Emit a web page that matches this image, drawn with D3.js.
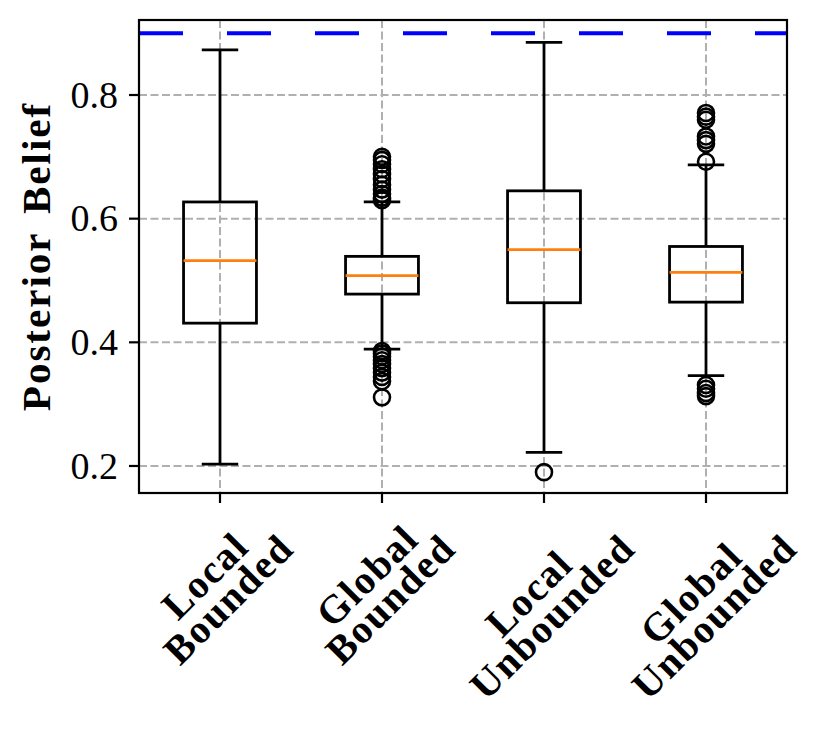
<!DOCTYPE html>
<html>
<head>
<meta charset="utf-8">
<script src="https://cdn.jsdelivr.net/npm/d3@7"></script>
<style>
  body { margin: 0; background: #fff; }
  text { font-family: "Liberation Serif", "Times New Roman", serif; fill: #000; }
</style>
</head>
<body>
<div id="app"></div>
<script>
// values
const categories = [['Local', 'Bounded'], ['Global', 'Bounded'], ['Local', 'Unbounded'], ['Global', 'Unbounded']]
const whiskerLow = [0.203, 0.389, 0.222, 0.346]
const q1 = [0.431, 0.478, 0.464, 0.465]
const median = [0.532, 0.508, 0.550, 0.513]
const q3 = [0.627, 0.539, 0.645, 0.555]
const whiskerHigh = [0.873, 0.627, 0.885, 0.687]
const fliers = [
  [],
  [0.700, 0.695, 0.688, 0.680, 0.672, 0.664, 0.655, 0.647, 0.640, 0.634, 0.630,
   0.386, 0.382, 0.377, 0.371, 0.365, 0.358, 0.351, 0.344, 0.337, 0.311],
  [0.190],
  [0.771, 0.765, 0.760, 0.733, 0.727, 0.721, 0.692, 0.331, 0.325, 0.318, 0.313]
]
const yTicks = [0.2, 0.4, 0.6, 0.8]
const refLine = 0.9

const size = { width: 831, height: 743, left: 139, right: 787, top: 20, bottom: 493 }

const x = d3.scaleLinear().domain([0.5, 4.5]).range([size.left, size.right])
const y = d3.scaleLinear().domain([0.1563, 0.9213]).range([size.bottom, size.top])
const boxW = x(1.45) - x(1)   // matplotlib default width 0.45
const capW = boxW / 2

const svg = d3.select('#app').append('svg')
  .attr('width', size.width)
  .attr('height', size.height)

// grid
const grid = svg.append('g')
  .attr('stroke', '#b0b0b0')
  .attr('stroke-width', 2)
  .attr('stroke-dasharray', '8,3.5')
grid.selectAll('.gy').data(yTicks).enter().append('line')
  .attr('x1', size.left).attr('x2', size.right)
  .attr('y1', d => y(d)).attr('y2', d => y(d))
grid.selectAll('.gx').data(categories).enter().append('line')
  .attr('x1', (d, i) => x(i + 1)).attr('x2', (d, i) => x(i + 1))
  .attr('y1', size.top).attr('y2', size.bottom)

// reference line
svg.append('line')
  .attr('x1', size.left).attr('x2', size.right)
  .attr('y1', y(refLine)).attr('y2', y(refLine))
  .attr('stroke', '#0000ff')
  .attr('stroke-width', 4)
  .attr('stroke-dasharray', '44,44')

// boxes
const boxes = svg.selectAll('.box').data(categories).enter().append('g')
  .attr('class', 'box')
  .attr('transform', (d, i) => `translate(${x(i + 1)},0)`)

boxes.append('line') // whisker low
  .attr('x1', 0).attr('x2', 0)
  .attr('y1', (d, i) => y(whiskerLow[i])).attr('y2', (d, i) => y(q1[i]))
  .attr('stroke', '#000').attr('stroke-width', 2.8)
boxes.append('line') // whisker high
  .attr('x1', 0).attr('x2', 0)
  .attr('y1', (d, i) => y(q3[i])).attr('y2', (d, i) => y(whiskerHigh[i]))
  .attr('stroke', '#000').attr('stroke-width', 2.8)
boxes.append('line') // low cap
  .attr('x1', -capW / 2).attr('x2', capW / 2)
  .attr('y1', (d, i) => y(whiskerLow[i])).attr('y2', (d, i) => y(whiskerLow[i]))
  .attr('stroke', '#000').attr('stroke-width', 2.8)
boxes.append('line') // high cap
  .attr('x1', -capW / 2).attr('x2', capW / 2)
  .attr('y1', (d, i) => y(whiskerHigh[i])).attr('y2', (d, i) => y(whiskerHigh[i]))
  .attr('stroke', '#000').attr('stroke-width', 2.8)
boxes.append('rect')
  .attr('x', -boxW / 2)
  .attr('width', boxW)
  .attr('y', (d, i) => y(q3[i]))
  .attr('height', (d, i) => y(q1[i]) - y(q3[i]))
  .attr('fill', 'none')
  .attr('stroke', '#000').attr('stroke-width', 2.8)
boxes.append('line') // median
  .attr('x1', -boxW / 2).attr('x2', boxW / 2)
  .attr('y1', (d, i) => y(median[i])).attr('y2', (d, i) => y(median[i]))
  .attr('stroke', '#ff7f0e').attr('stroke-width', 2.8)
boxes.each(function (d, i) {
  d3.select(this).selectAll('circle').data(fliers[i]).enter().append('circle')
    .attr('cx', 0)
    .attr('cy', v => y(v))
    .attr('r', 8)
    .attr('fill', 'none')
    .attr('stroke', '#000')
    .attr('stroke-width', 2.6)
})

// frame
svg.append('rect')
  .attr('x', size.left).attr('y', size.top)
  .attr('width', size.right - size.left).attr('height', size.bottom - size.top)
  .attr('fill', 'none').attr('stroke', '#000').attr('stroke-width', 2.2)

// y axis ticks + labels
const yAxis = svg.append('g')
yAxis.selectAll('line').data(yTicks).enter().append('line')
  .attr('x1', size.left - 10).attr('x2', size.left)
  .attr('y1', d => y(d)).attr('y2', d => y(d))
  .attr('stroke', '#000').attr('stroke-width', 2.2)
yAxis.selectAll('text').data(yTicks).enter().append('text')
  .attr('x', size.left - 21)
  .attr('y', d => y(d))
  .attr('dy', '0.33em')
  .attr('text-anchor', 'end')
  .attr('font-size', 38)
  .text(d => d3.format('.1f')(d))

svg.append('text')
  .attr('transform', `translate(50,${(size.top + size.bottom) / 2}) rotate(-90)`)
  .attr('text-anchor', 'middle')
  .attr('font-size', 41)
  .attr('font-weight', 'bold')
  .attr('letter-spacing', 2)
  .attr('word-spacing', 6)
  .text('Posterior Belief')

// x axis ticks + rotated two-line labels
svg.selectAll('.xt').data(categories).enter().append('line')
  .attr('x1', (d, i) => x(i + 1)).attr('x2', (d, i) => x(i + 1))
  .attr('y1', size.bottom).attr('y2', size.bottom + 10)
  .attr('stroke', '#000').attr('stroke-width', 2.2)

const lineGap = 33
const labels = svg.selectAll('.xl').data(categories).enter().append('text')
  .attr('class', 'xl')
  .attr('text-anchor', 'middle')
  .attr('font-size', 40)
  .attr('font-weight', 'bold')
  .attr('letter-spacing', 1.5)
labels.each(function (d) {
  const t = d3.select(this)
  d.forEach((s, k) => {
    t.append('tspan')
      .attr('x', 0)
      .attr('y', (k - 0.5) * lineGap + 13)
      .text(s)
  })
})
labels.attr('transform', function (d, i) {
  const w = d3.max(d3.select(this).selectAll('tspan').nodes(), n => n.getComputedTextLength())
  const cy = 503 + (w + 76) / (2 * Math.SQRT2)
  return `translate(${x(i + 1) - 3},${cy}) rotate(-45)`
})
</script>
</body>
</html>
